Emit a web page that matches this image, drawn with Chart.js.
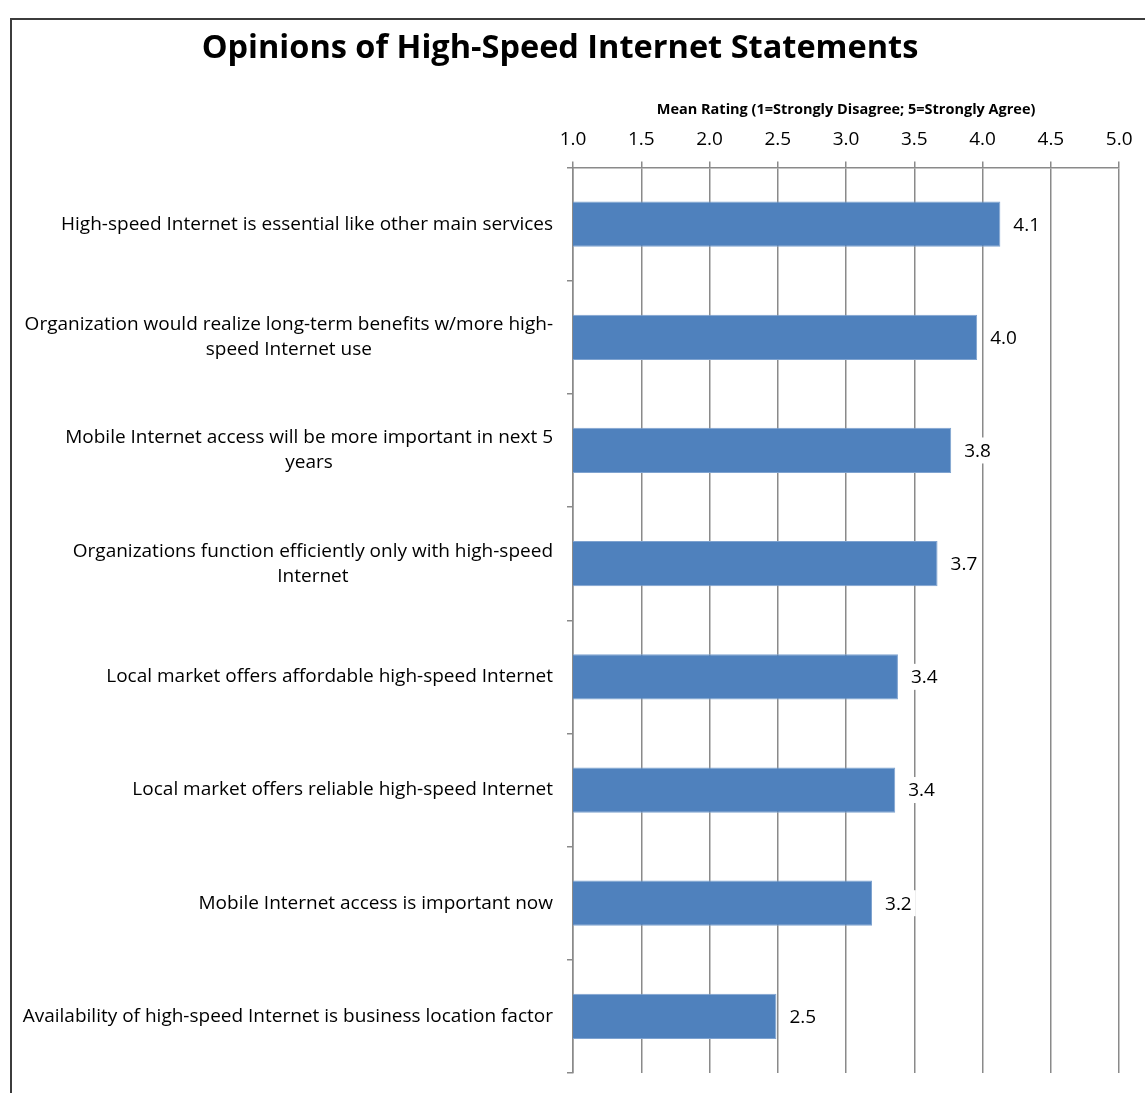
<!DOCTYPE html>
<html>
<head>
<meta charset="utf-8">
<script src="https://cdn.jsdelivr.net/npm/chart.js@4.4.1/dist/chart.umd.min.js"></script>
<style>
  html, body { margin: 0; padding: 0; background: #fff; }
  #wrap { position: relative; width: 1145px; height: 1093px; overflow: hidden; }
  #frame { position: absolute; left: 10px; top: 18px; width: 1300px; height: 1300px;
           border-left: 2px solid #3c3c3c; border-top: 2px solid #3c3c3c; }
  canvas { position: absolute; left: 0; top: 0; }
</style>
</head>
<body>
<div id="wrap">
  <div id="frame"></div>
  <canvas id="myChart" width="1145" height="1093"></canvas>
</div>
<script>
const chartTitle = 'Opinions of High-Speed Internet Statements';
const axisTitle = 'Mean Rating (1=Strongly Disagree; 5=Strongly Agree)';

const statements = [
  ['High-speed Internet is essential like other main services'],
  ['Organization would realize long-term benefits w/more high-', 'speed Internet use'],
  ['Mobile Internet access will be more important in next 5', 'years'],
  ['Organizations function efficiently only with high-speed', 'Internet'],
  ['Local market offers affordable high-speed Internet'],
  ['Local market offers reliable high-speed Internet'],
  ['Mobile Internet access is important now'],
  ['Availability of high-speed Internet is business location factor']
];
const meanRatings = [4.13, 3.96, 3.77, 3.67, 3.38, 3.36, 3.19, 2.49];

const ratingMin = 1.0;
const ratingMax = 5.0;
const ratingStep = 0.5;

const FONT = '"Open Sans", sans-serif';
const GRID = '#8a8a8a';

// category labels: block right-aligned, lines centered within the block
const categoryLabels = {
  id: 'categoryLabels',
  afterDraw(chart) {
    const y = chart.scales.y;
    const c = chart.ctx;
    c.save();
    c.font = '19px ' + FONT;
    c.fillStyle = '#000';
    c.textAlign = 'center';
    c.textBaseline = 'middle';
    const lh = 25;
    chart.data.labels.forEach((lines, i) => {
      const widest = Math.max(...lines.map(l => c.measureText(l).width));
      const cx = y.right - 20 - widest / 2;
      const cy = y.getPixelForValue(i);
      const y0 = cy - (lines.length - 1) * lh / 2;
      lines.forEach((l, k) => c.fillText(l, cx, y0 + k * lh));
    });
    c.restore();
  }
};

// value labels to the right of each bar
const valueLabels = {
  id: 'valueLabels',
  afterDatasetsDraw(chart) {
    const c = chart.ctx;
    const meta = chart.getDatasetMeta(0);
    c.save();
    c.font = '19px ' + FONT;
    c.textAlign = 'left';
    c.textBaseline = 'middle';
    meta.data.forEach((bar, i) => {
      const txt = meanRatings[i].toFixed(1);
      const w = c.measureText(txt).width;
      const x = bar.x + 13;
      c.fillStyle = '#fff';
      c.fillRect(x - 4, bar.y - 13, w + 8, 26);
      c.fillStyle = '#000';
      c.fillText(txt, x, bar.y + 1);
    });
    c.restore();
  }
};

const ctx = document.getElementById('myChart');

new Chart(ctx, {
  type: 'bar',
  data: {
    labels: statements,
    datasets: [{
      data: meanRatings,
      backgroundColor: '#4F81BD',
      borderColor: '#7FA3D0',
      borderWidth: 1,
      borderSkipped: false,
      barPercentage: 0.4,
      categoryPercentage: 1.0
    }]
  },
  options: {
    indexAxis: 'y',
    responsive: false,
    animation: false,
    layout: { padding: { top: 0, left: 0, right: 25, bottom: 20 } },
    plugins: {
      legend: { display: false },
      tooltip: { enabled: false },
      title: {
        display: true,
        text: chartTitle,
        color: '#000',
        font: { family: FONT, size: 32.5, weight: 'bold', lineHeight: 1.2 },
        padding: { top: 29, bottom: 31 }
      }
    },
    scales: {
      x: {
        position: 'top',
        min: ratingMin,
        max: ratingMax,
        grid: { color: GRID, lineWidth: 1.5, tickLength: 6, tickColor: GRID },
        border: { color: GRID, width: 1.5 },
        ticks: {
          stepSize: ratingStep,
          color: '#000',
          padding: 12.5,
          font: { family: FONT, size: 19, lineHeight: 1.0 },
          callback: v => Number(v).toFixed(1)
        },
        title: {
          display: true,
          text: axisTitle,
          color: '#000',
          font: { family: FONT, size: 14.5, weight: 'bold', lineHeight: 1.0 },
          padding: { top: 4, bottom: 0 }
        }
      },
      y: {
        grid: { drawOnChartArea: false, drawTicks: true, tickLength: 6, color: GRID, lineWidth: 1.5, offset: true },
        border: { color: GRID, width: 1.5 },
        ticks: { display: false },
        afterFit(scale) { scale.width = 573; }
      }
    }
  },
  plugins: [valueLabels, categoryLabels]
});
</script>
</body>
</html>
